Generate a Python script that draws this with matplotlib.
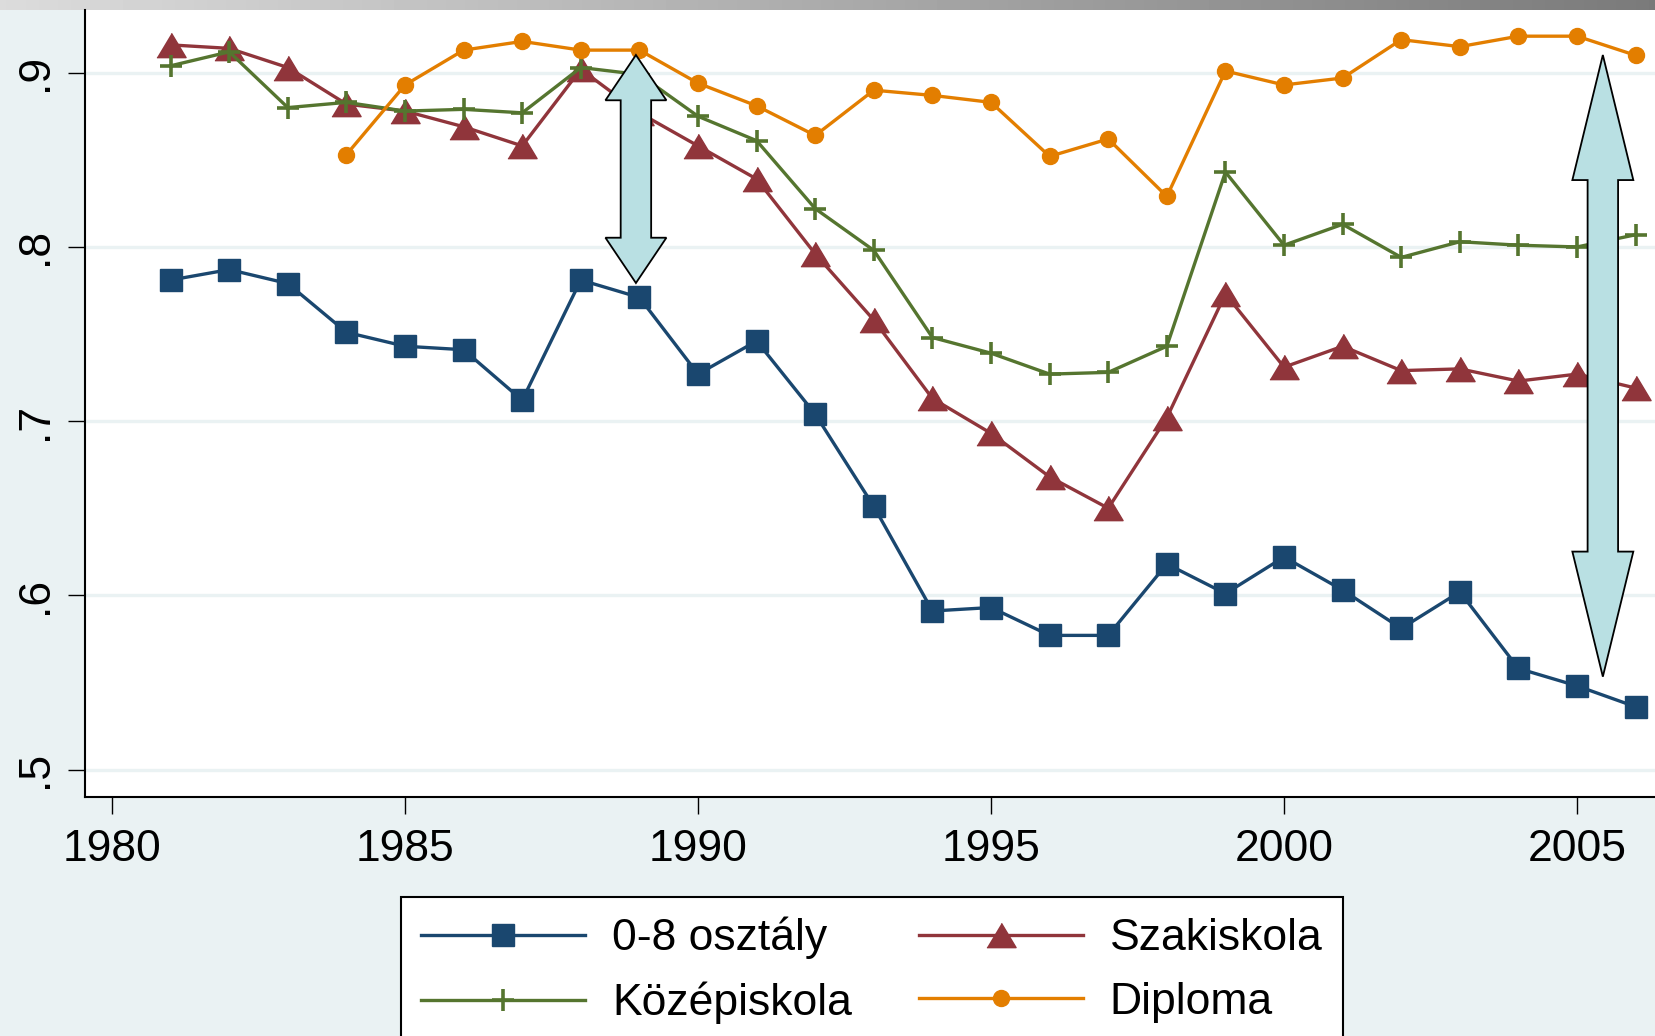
import numpy as np
import matplotlib
matplotlib.use("Agg")
import matplotlib.pyplot as plt
from matplotlib.patches import Polygon
from matplotlib.ticker import FuncFormatter

plt.rcParams['font.family'] = ['Liberation Sans', 'DejaVu Sans']

# data
years = list(range(1981, 2007))
osztaly = [0.781, 0.787, 0.779, 0.751, 0.743, 0.741, 0.712, 0.781, 0.771, 0.727,
           0.746, 0.704, 0.651, 0.591, 0.593, 0.577, 0.577, 0.618, 0.601, 0.622,
           0.603, 0.581, 0.602, 0.558, 0.548, 0.536]
szakiskola = [0.916, 0.914, 0.903, 0.882, 0.878, 0.869, 0.858, 0.902, 0.877, 0.858,
              0.839, 0.796, 0.758, 0.713, 0.693, 0.668, 0.650, 0.702, 0.773, 0.731,
              0.743, 0.729, 0.730, 0.723, 0.727, 0.719]
kozepiskola = [0.904, 0.912, 0.880, 0.883, 0.878, 0.879, 0.877, 0.903, 0.899, 0.875,
               0.861, 0.822, 0.798, 0.748, 0.739, 0.727, 0.728, 0.743, 0.843, 0.801,
               0.813, 0.794, 0.803, 0.801, 0.800, 0.807]
diploma_years = list(range(1984, 2007))
diploma = [0.853, 0.893, 0.913, 0.918, 0.913, 0.913, 0.894, 0.881, 0.864, 0.890,
           0.887, 0.883, 0.852, 0.862, 0.829, 0.901, 0.893, 0.897, 0.919, 0.915,
           0.921, 0.921, 0.910]

labels = ['0-8 osztály', 'Szakiskola', 'Középiskola', 'Diploma']
colors = ['#1A476F', '#90353B', '#55752F', '#E37E00']

# double arrows: (x, bottom tip, top tip, head length)
arrows = [(1988.94, 0.7793, 0.9102, 0.026),
          (2005.44, 0.5533, 0.9102, 0.0718)]
arrow_fill = '#B9E0E3'
bg = '#EAF2F3'


def double_arrow(ax, x, y0, y1, head_len, shaft_w=0.26, head_w=0.52):
    verts = [(x, y1), (x - head_w, y1 - head_len), (x - shaft_w, y1 - head_len),
             (x - shaft_w, y0 + head_len), (x - head_w, y0 + head_len), (x, y0),
             (x + head_w, y0 + head_len), (x + shaft_w, y0 + head_len),
             (x + shaft_w, y1 - head_len), (x + head_w, y1 - head_len)]
    ax.add_patch(Polygon(verts, closed=True, facecolor=arrow_fill,
                         edgecolor='black', lw=1.3, zorder=5))


fig = plt.figure(figsize=(16.55, 10.36), dpi=100)
fig.patch.set_facecolor(bg)

# grey gradient strip at the top
strip = fig.add_axes([0, 0.9908, 1, 0.0092])
grad = np.linspace(0.86, 0.48, 256).reshape(1, -1)
strip.imshow(grad, cmap='gray', vmin=0, vmax=1, aspect='auto')
strip.axis('off')

ax = fig.add_axes([0.0514, 0.231, 0.9486, 0.7598])
ax.set_facecolor('white')

tri = [(-1.2, -1), (1.2, -1), (0, 1)]
h0, = ax.plot(years, osztaly, color=colors[0], lw=2.4, marker='s', ms=16,
              mec=colors[0], label=labels[0], zorder=3)
h1, = ax.plot(years, szakiskola, color=colors[1], lw=2.4, marker=tri, ms=21,
              mec=colors[1], label=labels[1], zorder=3)
h2, = ax.plot(years, kozepiskola, color=colors[2], lw=2.4, marker='+', ms=16,
              mew=2.6, label=labels[2], zorder=3)
h3, = ax.plot(diploma_years, diploma, color=colors[3], lw=2.4, marker='o', ms=11.5,
              mec=colors[3], label=labels[3], zorder=3)

for x, y0, y1, hl in arrows:
    double_arrow(ax, x, y0, y1, hl)

ax.set_xlim(1979.54, 2006.33)
ax.set_ylim(0.4844, 0.9363)
ax.set_xticks([1980, 1985, 1990, 1995, 2000, 2005])
ax.set_yticks([0.5, 0.6, 0.7, 0.8, 0.9])
ax.yaxis.set_major_formatter(FuncFormatter(lambda v, p: f"{v:.1f}".lstrip('0')))
ax.grid(axis='y', color=bg, lw=2.4, zorder=0)
ax.set_axisbelow(True)

for s in ['top', 'right']:
    ax.spines[s].set_visible(False)
for s in ['left', 'bottom']:
    ax.spines[s].set_linewidth(1.5)
    ax.spines[s].set_color('black')

ax.tick_params(axis='x', length=12, width=1, labelsize=32, pad=11)
ax.tick_params(axis='y', length=12, width=1, labelsize=32, pad=9)
for t in ax.get_yticklabels():
    t.set_rotation(90)
    t.set_va('center')

# legend filled row by row like the original
leg = fig.legend([h0, h2, h1, h3], [labels[0], labels[2], labels[1], labels[3]],
                 loc='upper left', bbox_to_anchor=(0.2423, 0.1342),
                 bbox_transform=fig.transFigure, borderaxespad=0, ncol=2,
                 fontsize=32, handlelength=3.7, handletextpad=0.6,
                 columnspacing=1.5, borderpad=0.45, labelspacing=0.5,
                 fancybox=False, edgecolor='black', framealpha=1, numpoints=1)
leg.get_frame().set_linewidth(1.5)

fig.savefig('out.png', dpi=100, facecolor=bg)
